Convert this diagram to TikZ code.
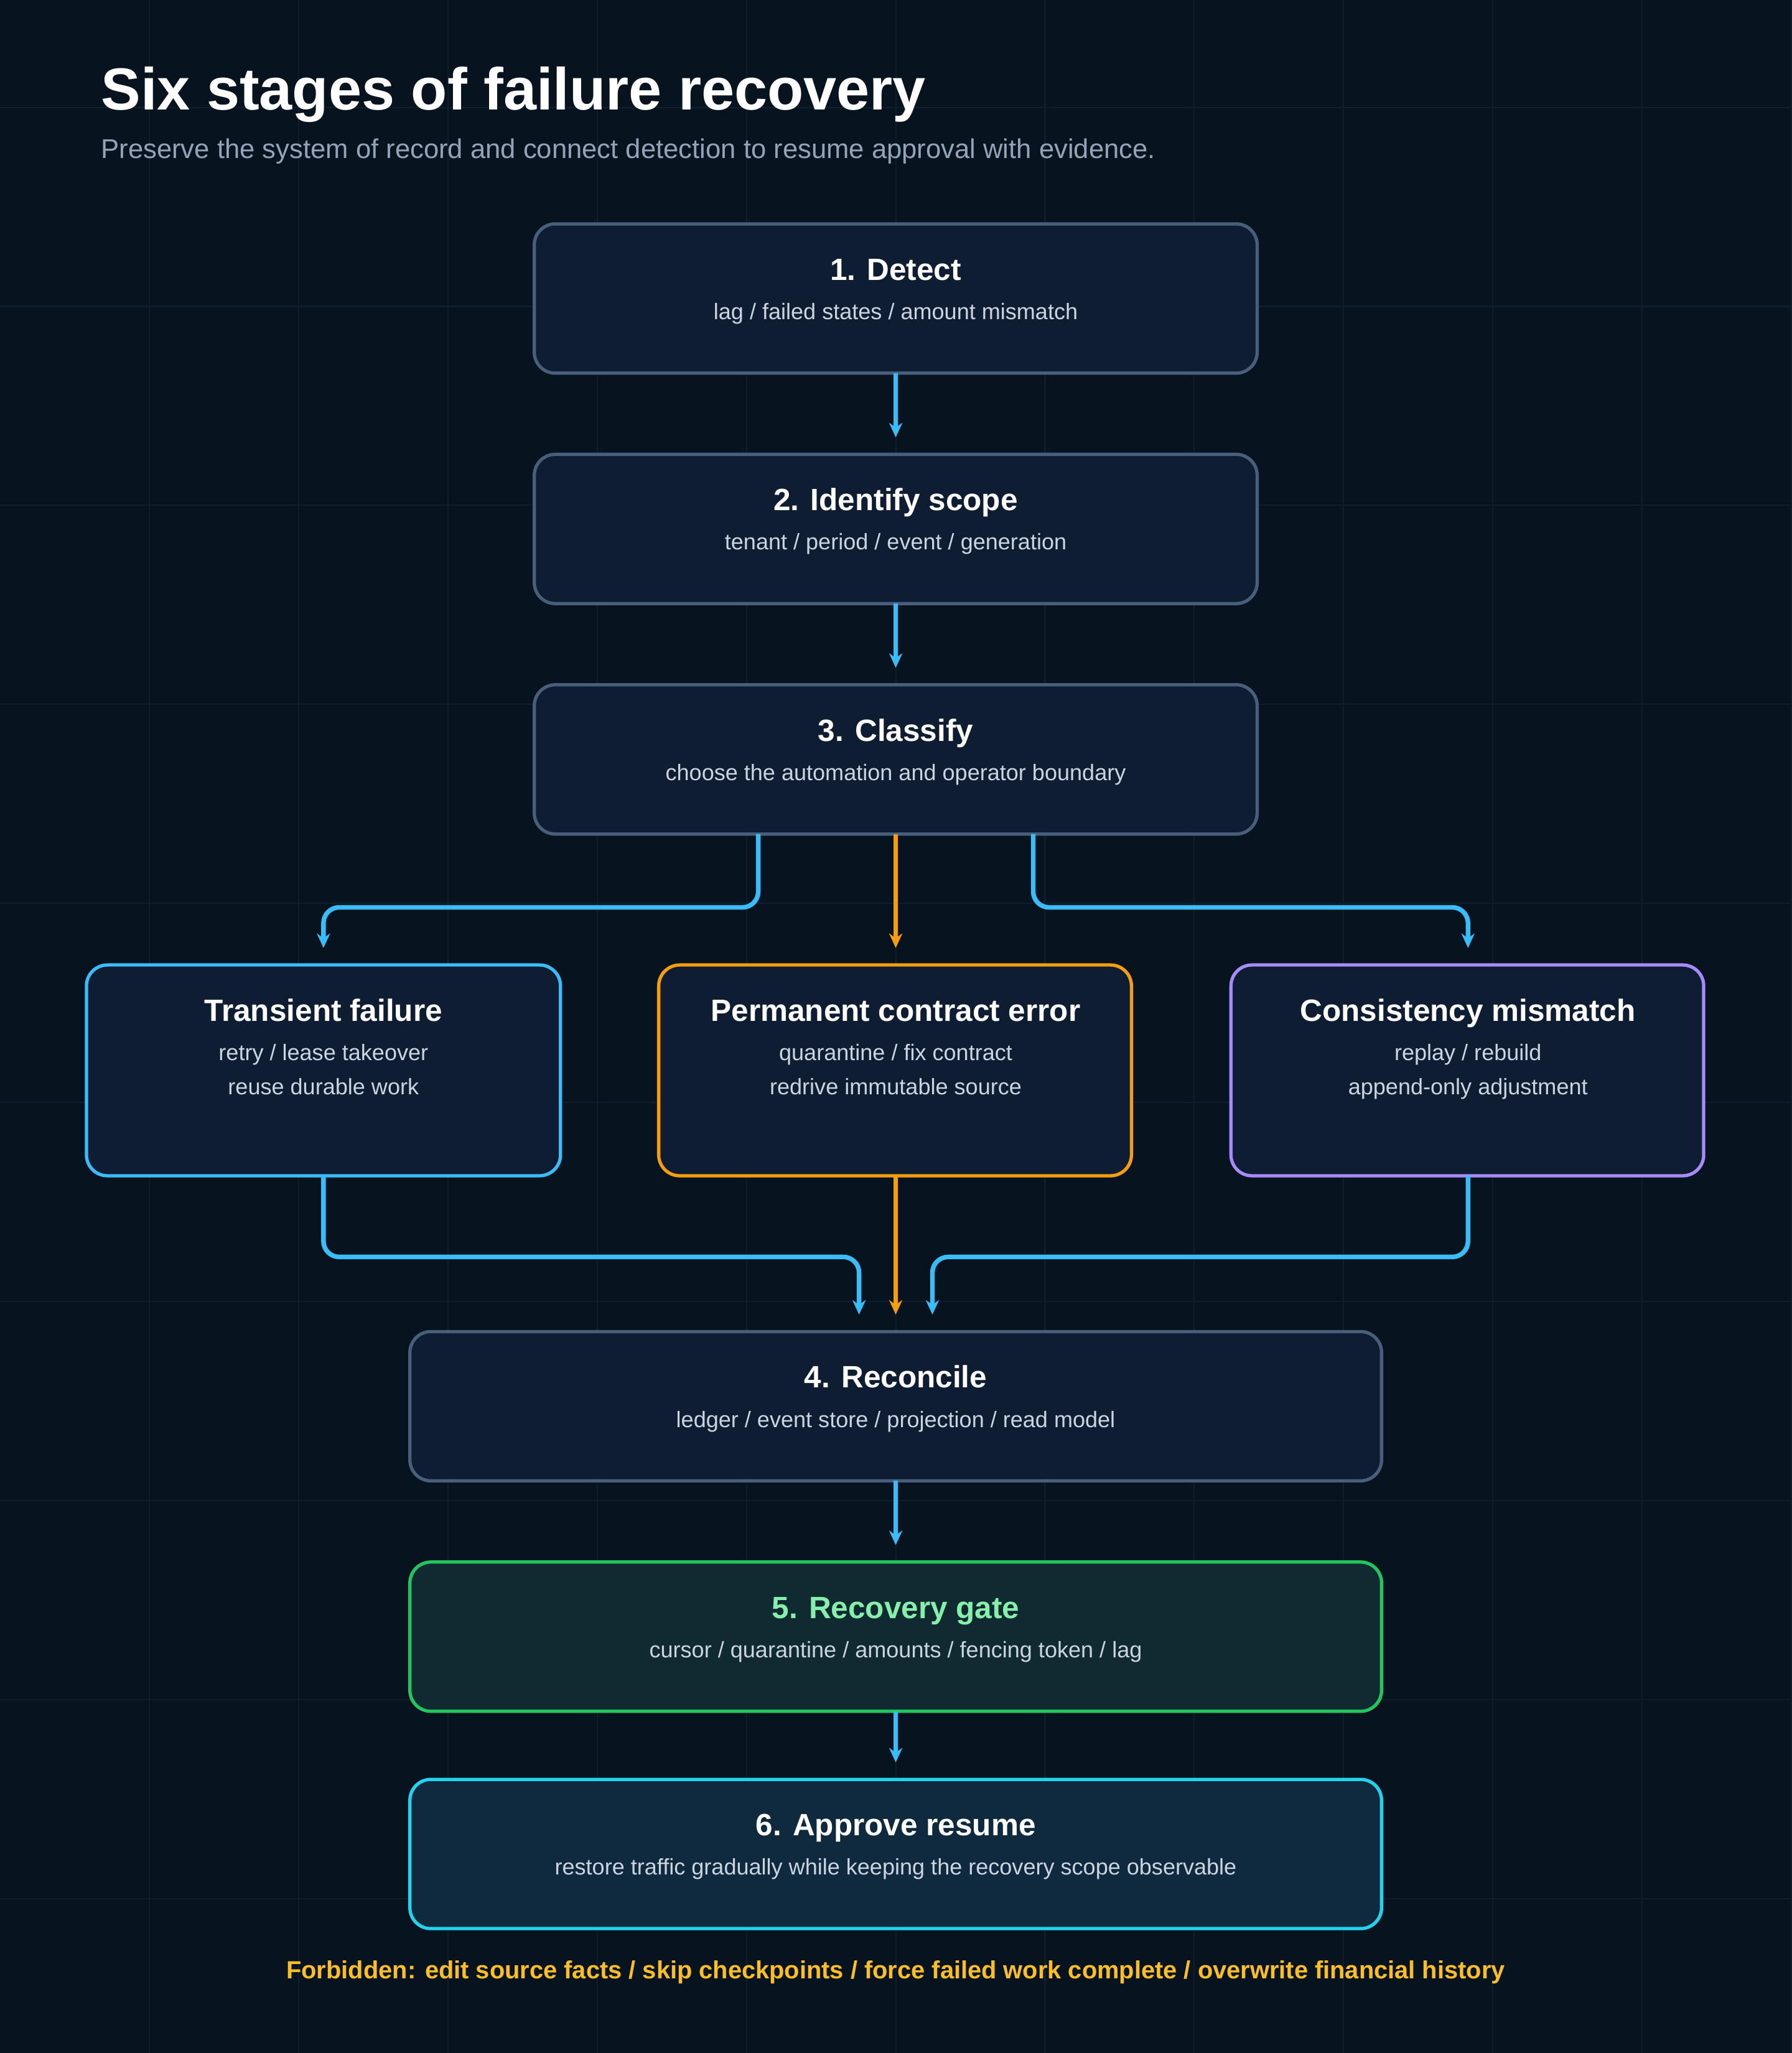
\documentclass[tikz,border=0pt]{standalone}
\usepackage{fontspec}
\setmainfont{Liberation Sans}
\usetikzlibrary{arrows.meta}
\definecolor{bg}{HTML}{07131F}
\definecolor{grid}{HTML}{0E1E2E}
\definecolor{boxfill}{HTML}{0F1D33}
\definecolor{boxline}{HTML}{475F7A}
\definecolor{sky}{HTML}{38BDF8}
\definecolor{amber}{HTML}{F59E0B}
\definecolor{violet}{HTML}{A78BFA}
\definecolor{sub}{HTML}{CBD5E1}
\definecolor{subt}{HTML}{94A3B8}
\definecolor{gfill}{HTML}{0F2A30}
\definecolor{gline}{HTML}{22C55E}
\definecolor{gtext}{HTML}{86EFAC}
\definecolor{cfill}{HTML}{0F2A3E}
\definecolor{cline}{HTML}{22D3EE}
\definecolor{warn}{HTML}{FBBF24}
\begin{document}
\begin{tikzpicture}[x=1bp,y=-1bp,
  box/.style={draw=boxline,fill=boxfill,line width=2.5bp,rounded corners=16bp},
  head/.style={text=white,font=\fontsize{23.6}{28}\selectfont\bfseries,anchor=base},
  body/.style={text=sub,font=\fontsize{17.2}{22}\selectfont,anchor=base},
  arr/.style={draw=sky,line width=3.5bp,rounded corners=12bp,-{Stealth[length=11bp,width=10bp]}},
  oarr/.style={arr,draw=amber}]
\fill[bg] (0,0) rectangle (1368,1568);
\useasboundingbox (0,0) rectangle (1368,1568);
\foreach \x in {114,228,...,1368} \draw[grid,line width=1bp] (\x,0) -- (\x,1568);
\foreach \y in {82,234,...,1568} \draw[grid,line width=1bp] (0,\y) -- (1368,\y);
\node[anchor=base west,text=white,font=\fontsize{45.5}{50}\selectfont\bfseries,inner sep=0] (title) at (77,84) {Six stages of failure recovery};
\node[anchor=base west,text=subt,font=\fontsize{20.8}{24}\selectfont,inner sep=0] (subtitle) at (77,121) {Preserve the system of record and connect detection to resume approval with evidence.};
% boxes
\draw[box] (408,171) rectangle (960,285);
\node[head] (h1) at (684,214) {1. Detect};
\node[body] (s1) at (684,244) {lag / failed states / amount mismatch};
\draw[box] (408,347) rectangle (960,461);
\node[head] (h2) at (684,390) {2. Identify scope};
\node[body] (s2) at (684,420) {tenant / period / event / generation};
\draw[box] (408,523) rectangle (960,637);
\node[head] (h3) at (684,566) {3. Classify};
\node[body] (s3) at (684,596) {choose the automation and operator boundary};
\draw[box,draw=sky] (66,737) rectangle (428,898);
\node[head] (ht) at (247,780) {Transient failure};
\node[body] (st) at (247,810) {retry / lease takeover};
\node[body] (st2) at (247,836) {reuse durable work};
\draw[box,draw=amber] (503,737) rectangle (864,898);
\node[head] (hp) at (684,780) {Permanent contract error};
\node[body] (sp) at (684,810) {quarantine / fix contract};
\node[body] (sp2) at (684,836) {redrive immutable source};
\draw[box,draw=violet] (940,737) rectangle (1301,898);
\node[head] (hc) at (1121,780) {Consistency mismatch};
\node[body] (sc) at (1121,810) {replay / rebuild};
\node[body] (sc2) at (1121,836) {append-only adjustment};
\draw[box] (313,1017) rectangle (1055,1131);
\node[head] (h4) at (684,1060) {4. Reconcile};
\node[body] (s4) at (684,1090) {ledger / event store / projection / read model};
\draw[box,draw=gline,fill=gfill] (313,1193) rectangle (1055,1307);
\node[head,text=gtext] (h5) at (684,1236) {5. Recovery gate};
\node[body] (s5) at (684,1266) {cursor / quarantine / amounts / fencing token / lag};
\draw[box,draw=cline,fill=cfill] (313,1359) rectangle (1055,1473);
\node[head] (h6) at (684,1402) {6. Approve resume};
\node[body] (s6) at (684,1432) {restore traffic gradually while keeping the recovery scope observable};
\node[anchor=base,text=warn,font=\fontsize{19}{22}\selectfont\bfseries] (foot) at (684,1511) {Forbidden: edit source facts / skip checkpoints / force failed work complete / overwrite financial history};
% connector anchor points
\coordinate (a1) at (684,285); \coordinate (a2) at (684,334);
\coordinate (a3) at (684,461); \coordinate (a4) at (684,510);
\coordinate (c1) at (579,637); \coordinate (c2) at (684,637); \coordinate (c3) at (789,637);
\coordinate (tT) at (247,724); \coordinate (tP) at (684,724); \coordinate (tC) at (1121,724);
\coordinate (bT) at (247,898); \coordinate (bP) at (684,898); \coordinate (bC) at (1121,898);
\coordinate (r1) at (656,1004); \coordinate (r2) at (684,1004); \coordinate (r3) at (712,1004);
\coordinate (d1) at (684,1131); \coordinate (d2) at (684,1180);
\coordinate (e1) at (684,1307); \coordinate (e2) at (684,1346);
\draw[arr] (a1) -- (a2);
\draw[arr] (a3) -- (a4);
\draw[arr] (c1) -- (579,693) -- (247,693) -- (tT);
\draw[oarr] (c2) -- (tP);
\draw[arr] (c3) -- (789,693) -- (1121,693) -- (tC);
\draw[arr] (bT) -- (247,960) -- (656,960) -- (r1);
\draw[oarr] (bP) -- (r2);
\draw[arr] (bC) -- (1121,960) -- (712,960) -- (r3);
\draw[arr] (d1) -- (d2);
\draw[arr] (e1) -- (e2);
\end{tikzpicture}
\end{document}
